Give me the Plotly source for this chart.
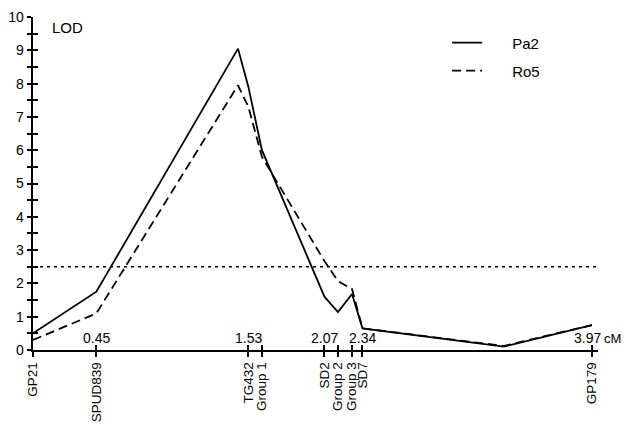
import plotly.graph_objects as go

# marker positions (cM) and names
marker_pos = [0.0, 0.45, 1.53, 1.626, 2.07, 2.166, 2.266, 2.34, 3.97]
marker_names = ["GP21", "SPUD839", "TG432", "Group 1", "SD2", "Group 2", "Group 3", "SD7", "GP179"]
cm_label_pos = [0.45, 1.53, 2.07, 2.34, 3.97]
cm_label_text = ["0.45", "1.53", "2.07", "2.34", "3.97"]

# LOD curves
curve_x = [0.0, 0.45, 1.456, 1.53, 1.626, 2.07, 2.166, 2.266, 2.34, 3.345, 3.97]
pa2 = [0.5, 1.75, 9.05, 7.9, 6.0, 1.6, 1.14, 1.68, 0.65, 0.1, 0.75]
ro5 = [0.3, 1.1, 7.95, 7.3, 5.8, 2.67, 2.07, 1.83, 0.65, 0.12, 0.75]

threshold = 2.5
threshold_x = [0.0, 4.0]

y_ticks = [i * 0.5 for i in range(21)]
y_text = [str(int(v)) if v == int(v) else "" for v in y_ticks]

FONT = "Liberation Sans, Arial, sans-serif"
PAD = "\u00a0" * 6

fig = go.Figure()
fig.add_trace(go.Scatter(x=curve_x, y=pa2, mode="lines", name=PAD + "Pa2",
                         line=dict(color="black", width=1.8), legend="legend"))
fig.add_trace(go.Scatter(x=curve_x, y=ro5, mode="lines", name=PAD + "Ro5",
                         line=dict(color="black", width=1.8, dash="9px,5px"), legend="legend2"))
fig.add_trace(go.Scatter(x=threshold_x, y=[threshold, threshold], mode="lines",
                         line=dict(color="black", width=1.6, dash="3px,4px"), showlegend=False,
                         hoverinfo="skip"))
# invisible trace on overlay axes so they get drawn
fig.add_trace(go.Scatter(x=[0], y=[0], xaxis="x2", yaxis="y2", mode="markers",
                         marker=dict(opacity=0), showlegend=False, hoverinfo="skip"))

for i, (px, txt) in enumerate(zip(cm_label_pos, cm_label_text)):
    last = i == len(cm_label_pos) - 1
    fig.add_annotation(x=px, y=0, xref="x", yref="y", text=txt, showarrow=False,
                       yanchor="bottom", yshift=2, xshift=-4 if last else 0,
                       font=dict(size=14, family=FONT, color="black"))
fig.add_annotation(x=cm_label_pos[-1], y=0, xref="x", yref="y", text="cM", showarrow=False,
                   xanchor="right", yanchor="bottom", xshift=31, yshift=2,
                   font=dict(size=13, family=FONT, color="black"))
fig.add_annotation(x=0, y=10, xref="x", yref="y", text="LOD", showarrow=False,
                   xanchor="left", yanchor="middle", xshift=17, yshift=-10,
                   font=dict(size=15, family=FONT, color="black"))

xr = [0, 4.013]
yr = [0, 10]
fig.update_layout(
    width=624, height=420,
    margin=dict(l=25, r=34, t=9, b=78, autoexpand=False),
    paper_bgcolor="white", plot_bgcolor="white",
    font=dict(family=FONT, size=13, color="black"),
    xaxis=dict(range=xr, tickmode="array", tickvals=marker_pos, ticktext=marker_names,
               tickangle=-90, ticks="outside", ticklen=5, tickwidth=1.5, tickcolor="black",
               showline=True, linecolor="black", linewidth=1.8, showgrid=False, zeroline=False,
               tickfont=dict(size=13.5), automargin=False),
    yaxis=dict(range=yr, tickmode="array", tickvals=y_ticks, ticktext=y_text,
               ticks="outside", ticklen=4.5, tickwidth=1.5, tickcolor="black",
               showline=True, linecolor="black", linewidth=1.8, showgrid=False, zeroline=False,
               tickfont=dict(size=14), automargin=False),
    xaxis2=dict(range=xr, overlaying="x", anchor="y", tickmode="array", tickvals=marker_pos,
                ticks="inside", ticklen=5, tickwidth=1.5, tickcolor="black",
                showticklabels=False, showline=False, showgrid=False, zeroline=False,
                side="bottom", automargin=False),
    yaxis2=dict(range=yr, overlaying="y", anchor="x", tickmode="array", tickvals=y_ticks,
                ticks="inside", ticklen=4.5, tickwidth=1.5, tickcolor="black",
                showticklabels=False, showline=False, showgrid=False, zeroline=False,
                side="left", automargin=False),
    legend=dict(x=0.733, y=0.922, xanchor="left", yanchor="middle", bgcolor="rgba(0,0,0,0)",
                font=dict(size=15)),
    legend2=dict(x=0.733, y=0.838, xanchor="left", yanchor="middle", bgcolor="rgba(0,0,0,0)",
                 font=dict(size=15)),
)

fig.write_html("out.html")
